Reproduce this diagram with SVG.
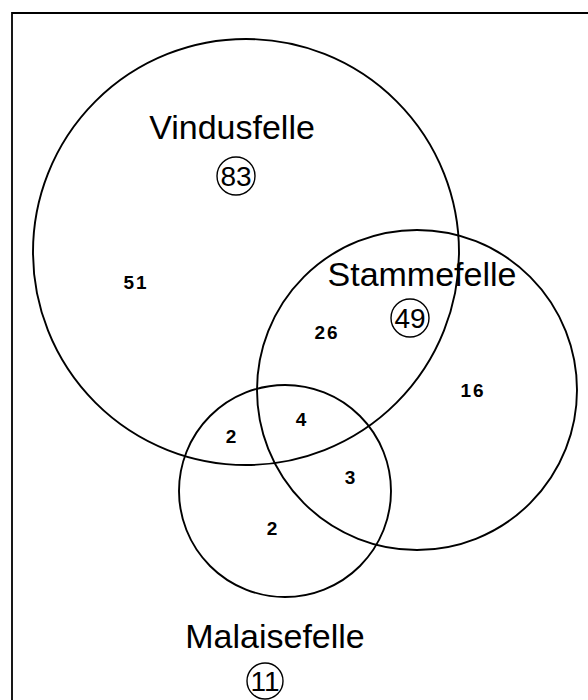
<svg xmlns="http://www.w3.org/2000/svg" width="588" height="700" viewBox="0 0 588 700">
<style>
.set{fill:none;stroke:#000;stroke-width:1.9}
.lab{font-family:"Liberation Sans",Arial,sans-serif;font-size:34px;fill:#000;text-anchor:middle}
.tot{font-family:"Liberation Sans",Arial,sans-serif;font-size:28px;fill:#000;text-anchor:middle}
.num{font-family:"Liberation Sans",Arial,sans-serif;font-size:19px;font-weight:bold;fill:#000;text-anchor:middle;letter-spacing:2px}
.ring{fill:none;stroke:#000;stroke-width:1.4}
</style>
<rect width="588" height="700" fill="#fff"/>
<path d="M12,700 V13 H588" fill="none" stroke="#000" stroke-width="1.8"/>
<g id="vindusfelle">
<circle class="set" cx="246" cy="252" r="213"/>
<text class="lab" x="232" y="139">Vindusfelle</text>
<circle class="ring" cx="236" cy="176" r="19"/>
<text class="tot" x="236" y="186">83</text>
</g>
<g id="stammefelle">
<circle class="set" cx="417" cy="390" r="160"/>
<text class="lab" x="422" y="286">Stammefelle</text>
<circle class="ring" cx="410" cy="318" r="19"/>
<text class="tot" x="410" y="328">49</text>
</g>
<g id="malaisefelle">
<circle class="set" cx="285" cy="491" r="106"/>
<text class="lab" x="275" y="648">Malaisefelle</text>
<circle class="ring" cx="265" cy="681" r="18"/>
<text class="tot" x="265" y="691">11</text>
</g>
<g id="counts">
<text class="num" x="136" y="289">51</text>
<text class="num" x="327" y="339">26</text>
<text class="num" x="473" y="397">16</text>
<text class="num" x="232" y="443">2</text>
<text class="num" x="302" y="426">4</text>
<text class="num" x="351" y="484">3</text>
<text class="num" x="273" y="535">2</text>
</g>
</svg>
